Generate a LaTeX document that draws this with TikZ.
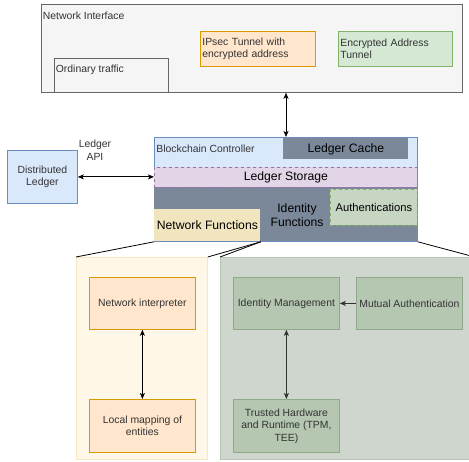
\documentclass[tikz,border=0pt]{standalone}
\usepackage{fontspec}
\setmainfont{Liberation Sans}
\usepackage{xcolor}
\usepackage{tikz}
\usetikzlibrary{arrows.meta}
\definecolor{txt}{HTML}{333333}
\definecolor{grayfill}{HTML}{F5F5F5}
\definecolor{graydraw}{HTML}{666666}
\definecolor{orfill}{HTML}{FFE6CC}
\definecolor{ordraw}{HTML}{D79B00}
\definecolor{grfill}{HTML}{D5E8D4}
\definecolor{grdraw}{HTML}{82B366}
\definecolor{blfill}{HTML}{DAE8FC}
\definecolor{bldraw}{HTML}{6C8EBF}
\definecolor{pufill}{HTML}{E1D5E7}
\definecolor{pudraw}{HTML}{9673A6}
\definecolor{slate}{HTML}{7A8899}
\definecolor{nffill}{HTML}{F0E5BF}
\definecolor{authfill}{HTML}{C6D6C3}
\definecolor{ypfill}{HTML}{FFF8E8}
\definecolor{ypdraw}{HTML}{F5E8C2}
\definecolor{gpfill}{HTML}{CFD6CE}
\definecolor{gpdraw}{HTML}{B4C6B1}
\definecolor{sgfill}{HTML}{B5C7B1}
\definecolor{sgdraw}{HTML}{8FAA8B}

\begin{document}
\begin{tikzpicture}[x=1pt,y=-1pt,line width=0.8pt,
    every node/.style={shape=rectangle,align=center,inner sep=2pt,text=txt,font=\fontsize{10.4}{12.5}\selectfont},
    box/.style={anchor=north west},
    grey/.style={fill=grayfill,draw=graydraw},
    orange/.style={fill=orfill,draw=ordraw},
    green/.style={fill=grfill,draw=grdraw},
    blue/.style={fill=blfill,draw=bldraw},
    sage/.style={fill=sgfill,draw=sgdraw},
    big/.style={font=\fontsize{12.2}{14}\selectfont,text=black},
    conn/.style={draw=black,{Stealth[length=6pt,width=5pt,inset=1.5pt]}-{Stealth[length=6pt,width=5pt,inset=1.5pt]}},
    single/.style={draw=txt,-{Stealth[length=6pt,width=5pt,inset=1.5pt]}}]
      \useasboundingbox (0,0) rectangle (469,462);
      \node[box,grey,minimum width=421pt,minimum height=88pt] (netif) at (41,4) {};
      \node[anchor=base west] (netiflbl) at (40.5,20) {Network Interface};
      \node[box,grey,minimum width=114pt,minimum height=34pt] (ordinary) at (54,58) {};
      \node[anchor=base west] (ordlbl) at (53.5,73) {Ordinary traffic};
      \node[box,orange,minimum height=35pt,text width=111pt,align=left] (ipsec) at (200,31) {IPsec Tunnel with\\encrypted address};
      \node[box,green,minimum height=35pt,text width=110pt,align=left] (encaddr) at (338,31) {Encrypted Address\\Tunnel};
      \node[box,blue,minimum width=263pt,minimum height=104pt] (bc) at (154,137) {};
      \node[anchor=base west] (bclbl) at (154,153) {Blockchain Controller};
      \node[box,fill=slate,big,minimum width=125pt,minimum height=21pt] (cache) at (283,138) {Ledger Cache};
      \node[box,fill=slate,minimum width=263pt,minimum height=54pt] (idf) at (154,187) {};
      \node[box,fill=pufill,draw=pudraw,dashed,big,minimum width=263pt,minimum height=20pt] (storage) at (154,167) {Ledger Storage};
      \node[box,fill=authfill,draw=grdraw,dashed,big,font=\fontsize{11.2}{13}\selectfont,inner sep=0pt,minimum width=87pt,minimum height=36pt] (auth) at (330,189) {Authentications};
      \node[box,fill=nffill,big,inner sep=1pt,minimum width=106pt,minimum height=32pt] (nf) at (154,209) {Network Functions};
      \node[big] (idflbl) at (297,215) {Identity\\Functions};
      \node[box,blue,minimum width=70pt,minimum height=53pt] (dl) at (7,150) {Distributed\\Ledger};
      \node (api) at (95,150) {Ledger\\API};
      \draw[conn] (dl.east) -- (dl.east -| bc.west);
      \draw[conn] ([xshift=3pt]cache.north west |- netif.south) -- ([xshift=3pt]cache.north west |- bc.north);
      \node[box,fill=ypfill,draw=ypdraw,minimum width=131pt,minimum height=202pt] (netpanel) at (76,257) {};
      \node[box,fill=gpfill,draw=gpdraw,minimum width=254pt,minimum height=202pt] (idpanel) at (220,257) {};
      \draw (bc.south west) -- (netpanel.north west);
      \draw (nf.south east) -- (netpanel.north east);
      \draw (nf.south east) -- (idpanel.north west);
      \draw (bc.south east) -- (idpanel.north east);
      \node[box,orange,minimum width=106pt,minimum height=52pt] (interp) at (89,277) {Network interpreter};
      \node[box,orange,minimum width=106pt,minimum height=53pt] (mapping) at (89,399) {Local mapping of\\entities};
      \node[box,sage,minimum width=106pt,minimum height=52pt] (idmgmt) at (233,277) {Identity Management};
      \node[box,sage,minimum width=106pt,minimum height=52pt] (mutual) at (356,277) {Mutual Authentication};
      \node[box,sage,minimum width=106pt,minimum height=53pt] (trusted) at (233,399) {Trusted Hardware\\and Runtime (TPM,\\TEE)};
      \draw[conn] (interp) -- (mapping);
      \draw[conn,draw=txt] (idmgmt) -- (trusted);
      \draw[single] (mutual) -- (idmgmt);
\end{tikzpicture}
\end{document}
